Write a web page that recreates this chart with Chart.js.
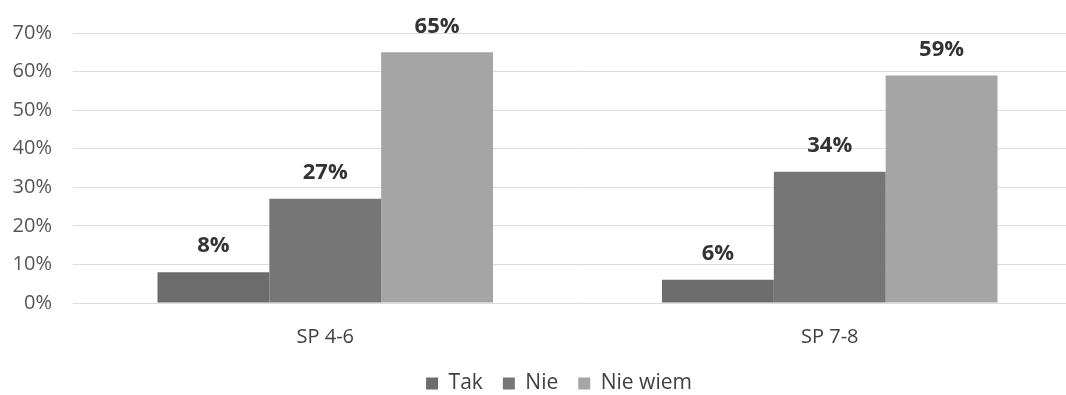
<!DOCTYPE html>
<html>
<head>
<meta charset="utf-8">
<script src="https://cdn.jsdelivr.net/npm/chart.js@4.4.0/dist/chart.umd.min.js"></script>
<style>
  html, body { margin: 0; padding: 0; background: #ffffff; overflow: hidden; }
  #wrap { width: 1082px; height: 395px; position: relative; }
</style>
</head>
<body>
<div id="wrap"><canvas id="c" width="1082" height="395"></canvas></div>
<script>
const categories = ['SP 4-6', 'SP 7-8'];
const seriesNames = ['Tak', 'Nie', 'Nie wiem'];
const takValues = [8, 6];
const nieValues = [27, 34];
const nieWiemValues = [65, 59];
const yTickLabels = ['0%', '10%', '20%', '30%', '40%', '50%', '60%', '70%'];
const seriesColors = ['#6c6c6c', '#767676', '#a5a5a5'];

const FONT = "'Open Sans', 'DejaVu Sans', sans-serif";

const valueLabels = {
  id: 'valueLabels',
  afterDatasetsDraw(chart) {
    const ctx = chart.ctx;
    ctx.save();
    ctx.font = "bold 22px " + FONT;
    ctx.fillStyle = '#333333';
    ctx.textAlign = 'center';
    ctx.textBaseline = 'middle';
    chart.data.datasets.forEach((ds, i) => {
      const meta = chart.getDatasetMeta(i);
      meta.data.forEach((bar, j) => {
        ctx.fillText(ds.data[j] + '%', bar.x, bar.y - 26);
      });
    });
    ctx.restore();
  }
};

// centre the legend under the plotted categories rather than the full canvas
const legendShift = {
  id: 'legendShift',
  afterLayout(chart) {
    const lg = chart.legend;
    if (lg) { lg.left += 18; lg.right += 18; }
  }
};

new Chart(document.getElementById('c'), {
  type: 'bar',
  data: {
    labels: categories,
    datasets: [
      { label: seriesNames[0], data: takValues, backgroundColor: seriesColors[0] },
      { label: seriesNames[1], data: nieValues, backgroundColor: seriesColors[1] },
      { label: seriesNames[2], data: nieWiemValues, backgroundColor: seriesColors[2] }
    ]
  },
  options: {
    responsive: false,
    animation: false,
    layout: { padding: { left: 0, right: 0, top: 30, bottom: -9 } },
    datasets: { bar: { barPercentage: 1.0, categoryPercentage: 0.665 } },
    scales: {
      x: {
        afterFit(scale) { scale.height = 50; },
        grid: { display: false, drawTicks: false },
        border: { display: false },
        ticks: { color: '#404040', font: { family: FONT, size: 20 }, padding: 22 }
      },
      y: {
        min: 0, max: 70,
        afterFit(scale) { scale.width = 73; },
        grid: { color: '#dcdcdc', lineWidth: 1, drawTicks: false },
        border: { display: false },
        ticks: {
          stepSize: 10,
          color: '#555555', font: { family: FONT, size: 20 }, padding: 21,
          callback: (v, i) => yTickLabels[i]
        }
      }
    },
    plugins: {
      tooltip: { enabled: false },
      legend: {
        position: 'bottom',
        labels: {
          boxWidth: 12, boxHeight: 12, padding: 20,
          color: '#404040', font: { family: FONT, size: 21 }
        }
      }
    }
  },
  plugins: [valueLabels, legendShift]
});
</script>
</body>
</html>
